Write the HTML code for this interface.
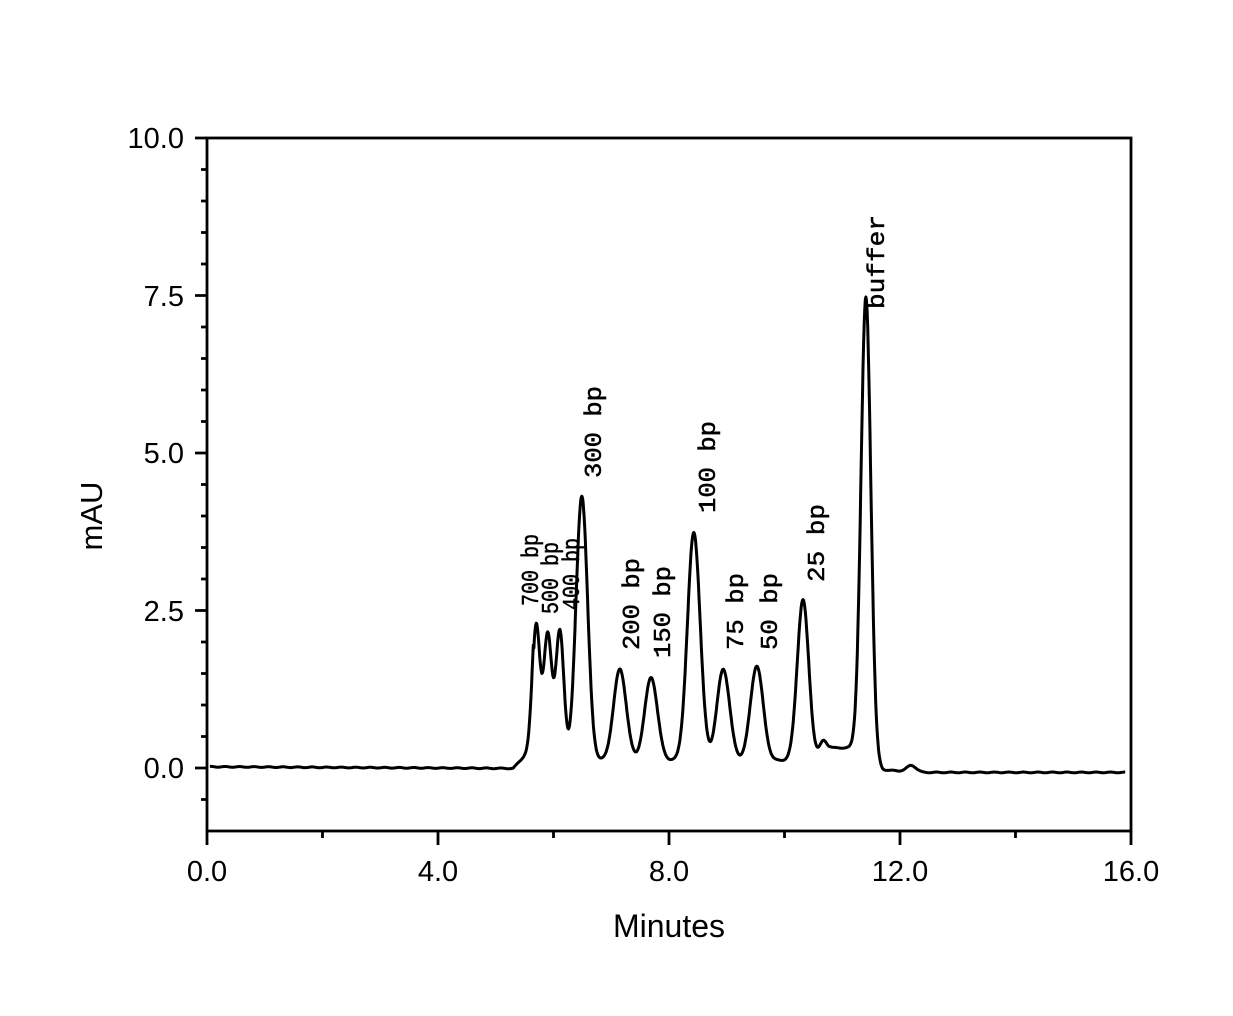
<!DOCTYPE html>
<html><head><meta charset="utf-8"><style>
html,body{margin:0;padding:0;background:#fff;}
svg{display:block;}
.t{font-family:"Liberation Sans",sans-serif;font-size:29px;fill:#000;}
.l{font-family:"Liberation Mono",monospace;font-size:24px;fill:#000;stroke:#000;stroke-width:0.5;}
</style></head><body>
<svg id="s" width="1233" height="1016" viewBox="0 0 1233 1016" xmlns="http://www.w3.org/2000/svg">
<rect width="1233" height="1016" fill="#fff"/>
<g stroke="#000" stroke-width="2.8" fill="none">
<rect x="207" y="138" width="924" height="693"/>
<path d="M195 138H207M195 295.5H207M195 453H207M195 610.5H207M195 768H207
M201 169.5H207M201 201H207M201 232.5H207M201 264H207
M201 327H207M201 358.5H207M201 390H207M201 421.5H207
M201 484.5H207M201 516H207M201 547.5H207M201 579H207
M201 642H207M201 673.5H207M201 705H207M201 736.5H207M201 799.5H207
M207 831V845M438 831V845M669 831V845M900 831V845M1131 831V845
M322.5 831V838M553.5 831V838M784.5 831V838M1015.5 831V838"/>
<path id="tr" stroke-width="3" stroke-linejoin="round"/>
</g>
<g class="t" text-anchor="end">
<text x="184" y="148">10.0</text><text x="184" y="306">7.5</text><text x="184" y="463">5.0</text><text x="184" y="621">2.5</text><text x="184" y="778">0.0</text>
</g>
<g class="t" text-anchor="middle">
<text x="207" y="881">0.0</text><text x="438" y="881">4.0</text><text x="669" y="881">8.0</text><text x="900" y="881">12.0</text><text x="1131" y="881">16.0</text>
<text x="669" y="937" style="font-size:32px">Minutes</text>
<text transform="translate(102,516) rotate(-90)" style="font-size:31px">mAU</text>
</g>
<g class="l">
<text transform="translate(538,606) rotate(-90)" textLength="72" lengthAdjust="spacingAndGlyphs">700 bp</text>
<text transform="translate(558,614) rotate(-90)" textLength="72" lengthAdjust="spacingAndGlyphs">500 bp</text>
<text transform="translate(579,610) rotate(-90)" textLength="72" lengthAdjust="spacingAndGlyphs">400 bp</text>
<text transform="translate(601,478) rotate(-90)" textLength="92" lengthAdjust="spacingAndGlyphs">300 bp</text>
<text transform="translate(639,650) rotate(-90)" textLength="92" lengthAdjust="spacingAndGlyphs">200 bp</text>
<text transform="translate(670,658) rotate(-90)" textLength="92" lengthAdjust="spacingAndGlyphs">150 bp</text>
<text transform="translate(715,513) rotate(-90)" textLength="92" lengthAdjust="spacingAndGlyphs">100 bp</text>
<text transform="translate(743,650) rotate(-90)" textLength="77" lengthAdjust="spacingAndGlyphs">75 bp</text>
<text transform="translate(777,650) rotate(-90)" textLength="77" lengthAdjust="spacingAndGlyphs">50 bp</text>
<text transform="translate(824,582) rotate(-90)" textLength="78" lengthAdjust="spacingAndGlyphs">25 bp</text>
<text transform="translate(884,309) rotate(-90)" textLength="94" lengthAdjust="spacingAndGlyphs">buffer</text>
</g>
</svg>
<script>
var P=[[5.70,2.15,0.065],[5.90,2.0,0.07],[6.11,2.05,0.07],[6.49,4.2,0.10],[7.15,1.45,0.11],[7.69,1.32,0.11],[8.43,3.62,0.11],[8.94,1.45,0.11],[9.52,1.5,0.11],[10.32,2.55,0.10],[10.67,0.2,0.06],[11.41,7.3,0.085],[12.2,0.1,0.08]];
function f(t){var v=0;
for(var i=0;i<P.length;i++){var d=(t-P[i][0])/P[i][2];v+=P[i][1]*Math.exp(-0.5*d*d);}
var b=0;
if(t<5.3)b=0.02-0.005*t;
else if(t<5.65)b=-0.006+0.35*(t-5.3)/0.35;
else if(t<10.5)b=0.12;
else if(t<11.2)b=0.12+0.2*Math.min(1,(t-10.5)/0.3);
else if(t<11.7)b=0.32-0.35*(t-11.2)/0.5;
else if(t<12.4)b=-0.03-0.04*(t-11.7)/0.7;
else b=-0.07;
return v+b+0.006*Math.sin(t*25);}
var d="";for(var t=0.05;t<=15.9;t+=0.01){var x=207+t*57.75,y=768-f(t)*63;d+=(d?"L":"M")+x.toFixed(1)+" "+y.toFixed(1);}
document.getElementById("tr").setAttribute("d",d);
</script>
</body></html>
